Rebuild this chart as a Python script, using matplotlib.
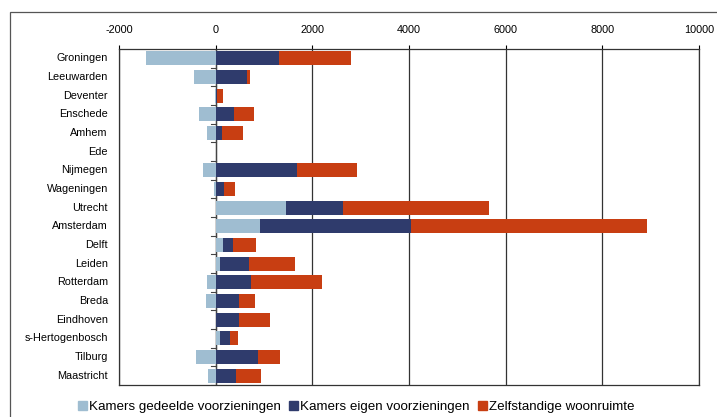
import matplotlib.pyplot as plt
import matplotlib.patches as mpatches
import numpy as np

plt.rcParams['font.family'] = ['Liberation Sans', 'DejaVu Sans']
plt.rcParams['axes.unicode_minus'] = False

cities = ['Groningen', 'Leeuwarden', 'Deventer', 'Enschede', 'Arnhem', 'Ede',
          'Nijmegen', 'Wageningen', 'Utrecht', 'Amsterdam', 'Delft', 'Leiden',
          'Rotterdam', 'Breda', 'Eindhoven', 's-Hertogenbosch', 'Tilburg', 'Maastricht']
labels = list(cities)
labels[4] = 'Amhem'  # as printed in the source

# values
gedeeld = [-1450, -440, -20, -340, -180, 0, -270, -40, 1445, 910, 160, 80,
           -170, -205, 0, 100, -410, -150]
eigen = [1320, 640, 20, 380, 140, 0, 1680, 170, 1190, 3130, 200, 600,
         740, 490, 490, 200, 880, 430]
zelfstandig = [1470, 80, 130, 410, 420, 0, 1250, 240, 3025, 4880, 470, 965,
               1450, 330, 630, 160, 460, 510]

series = [('Kamers gedeelde voorzieningen', gedeeld, '#9fbdd1'),
          ('Kamers eigen voorzieningen', eigen, '#2f3b6c'),
          ('Zelfstandige woonruimte', zelfstandig, '#c83e12')]

fig = plt.figure(figsize=(7.17, 4.17), dpi=100)
ax = fig.add_axes([119/717, 1 - 385/417, 580/717, 336/417])

y = np.arange(len(cities))
pos = np.zeros(len(cities))
neg = np.zeros(len(cities))
for name, vals, col in series:
    v = np.array(vals, dtype=float)
    left = np.where(v >= 0, pos, neg)
    ax.barh(y, v, left=left, height=0.75, color=col, label=name, zorder=3)
    pos = pos + np.where(v >= 0, v, 0)
    neg = neg + np.where(v < 0, v, 0)

ax.set_xlim(-2000, 10000)
ax.set_ylim(len(cities) - 0.5, -0.5)
ax.set_xticks([-2000, 0, 2000, 4000, 6000, 8000, 10000])
ax.xaxis.tick_top()
ax.tick_params(axis='x', length=3, width=0.8, labelsize=7.8, pad=7)
ax.grid(axis='x', color='#333333', linewidth=0.9, zorder=1)
ax.set_yticks([])
for i, lab in enumerate(labels):
    ax.text(-2230, i, lab, ha='right', va='center', fontsize=7.8)

# category axis at zero with small ticks between categories
ax.axvline(0, color='#444444', linewidth=0.9, zorder=2)
for b in np.arange(-0.5, len(cities), 1.0):
    ax.plot([-90, 0], [b, b], color='#444444', linewidth=0.8, zorder=2)

for s in ax.spines.values():
    s.set_color('#333333')
    s.set_linewidth(0.9)

handles = [mpatches.Patch(color=c, label=n) for n, _, c in series]
fig.legend(handles=handles, loc='center', bbox_to_anchor=(0.497, 1 - 407/417),
           ncol=3, frameon=False, fontsize=9.6, handlelength=0.7, handleheight=0.7,
           handletextpad=0.15, columnspacing=0.6)

# outer chart frame
fig.add_artist(mpatches.Rectangle((10/717, -0.05), 1.1, 1 - 11.5/417 + 0.05,
                                  transform=fig.transFigure, fill=False,
                                  edgecolor='#555555', linewidth=0.9))

fig.savefig('out.png', dpi=100)
